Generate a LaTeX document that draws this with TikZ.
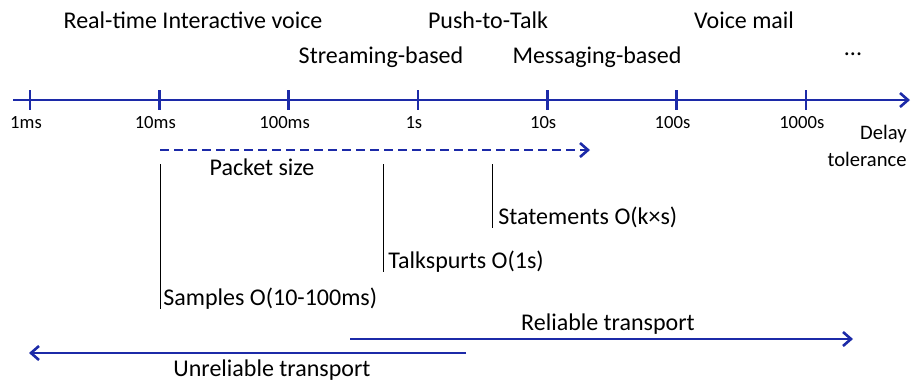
\documentclass[tikz,border=0pt]{standalone}
\usepackage{fontspec}
\setmainfont{Carlito}
\usetikzlibrary{arrows.meta}
\definecolor{axisblue}{RGB}{28,42,168}
\tikzset{
  axisline/.style={draw=axisblue, line width=1.3pt, -{Straight Barb[length=4pt,width=7pt]}},
  tickmark/.style={draw=axisblue, line width=1.3pt},
  ticklabel/.style={font=\fontsize{9.3}{11}\selectfont, anchor=base, inner sep=0pt},
  biglabel/.style={font=\fontsize{12}{14}\selectfont, anchor=base, inner sep=0pt},
  grainlabel/.style={font=\fontsize{12}{14}\selectfont, anchor=base west, inner sep=0pt},
  grainline/.style={draw=black, line width=0.5pt},
  dasharrow/.style={axisline, dash pattern=on 4.5pt off 2.5pt},
}
\begin{document}
\begin{tikzpicture}[x=0.5pt, y=-0.5pt]
  \useasboundingbox (0,0) rectangle (912,381);
  % delay axis
  \coordinate (ax0) at (13,100);
  \coordinate (ax1) at (910,100);
  \draw[axisline] (ax0) -- (ax1);
  \foreach \lab [count=\i from 0] in {1ms,10ms,100ms,1s,10s,100s,1000s} {
    \coordinate (t\i) at (30+129.3*\i,100);
    \draw[tickmark] ([yshift=5pt]t\i) -- ([yshift=-5pt]t\i);
    \node[ticklabel, xshift=-2pt] (tl\i) at (30+129.3*\i,128) {\lab};
  }
  \node[font=\fontsize{10.3}{13.5}\selectfont, align=right, anchor=base east, inner sep=0pt]
    (delay) at (907,166) {Delay\\tolerance};
  % applications
  \node[biglabel] (rtvoice) at (193,28) {Real-time Interactive voice};
  \node[biglabel] (ptt) at (488,28) {Push-to-Talk};
  \node[biglabel] (vmail) at (744,28) {Voice mail};
  \node[biglabel] (stream) at (381,63) {Streaming-based};
  \node[biglabel] (msg) at (597,63) {Messaging-based};
  \node[biglabel] (more) at (853,55) {...};
  % packet size
  \coordinate (pk0) at (160,150);
  \coordinate (pk1) at (590,150);
  \draw[dasharrow] (pk0) -- (pk1);
  \node[biglabel] (pksize) at (262,175) {Packet size};
  \coordinate (g0) at (160,164);
  \coordinate (g1) at (383,164);
  \coordinate (g2) at (492,164);
  \node[grainlabel] (samples) at (163,305) {Samples O(10-100ms)};
  \node[grainlabel] (spurts) at (388,268) {Talkspurts O(1s)};
  \node[grainlabel] (stmts) at (498,224) {Statements O(k×s)};
  \draw[grainline] (g0) -- (g0 |- samples.south);
  \draw[grainline] (g1) -- (g1 |- spurts.south);
  \draw[grainline] (g2) -- (g2 |- stmts.south);
  % transport
  \coordinate (rel0) at (350,339);
  \coordinate (rel1) at (853,339);
  \draw[axisline] (rel0) -- (rel1);
  \node[biglabel] (reltext) at (608,330) {Reliable transport};
  \coordinate (unr0) at (466,353);
  \coordinate (unr1) at (29,353);
  \draw[axisline] (unr0) -- (unr1);
  \node[biglabel] (unrtext) at (272,376) {Unreliable transport};
\end{tikzpicture}
\end{document}
